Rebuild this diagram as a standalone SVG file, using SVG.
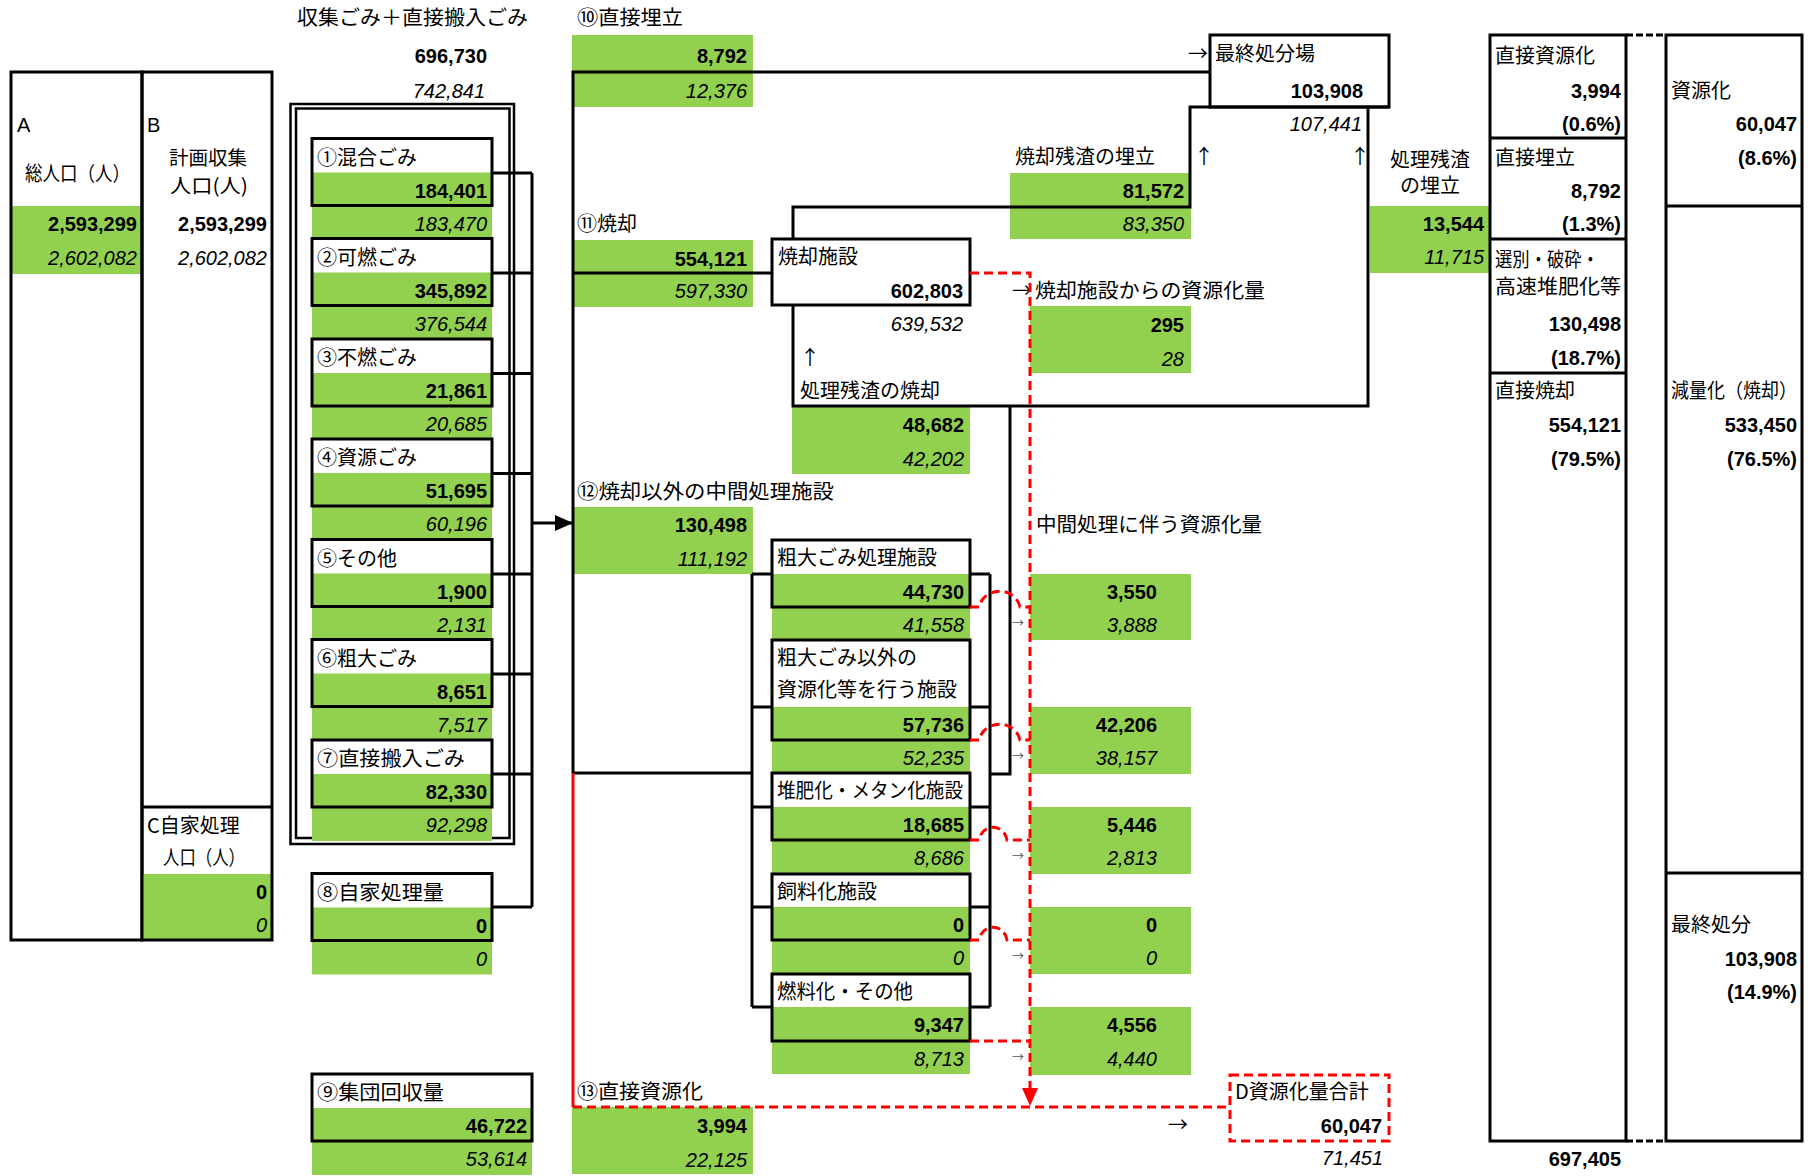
<svg xmlns="http://www.w3.org/2000/svg" width="1819" height="1176" viewBox="0 0 1819 1176">
<style>
.g{fill:#92D050}
.bx{fill:none;stroke:#000;stroke-width:3}
.wb{fill:#fff;stroke:#000;stroke-width:3}
.ln{fill:none;stroke:#000;stroke-width:3}
.dbl{fill:none;stroke:#000;stroke-width:2.5}
.rd{fill:none;stroke:#FF0000;stroke-width:3;stroke-dasharray:9 5}
.rs{fill:none;stroke:#FF0000;stroke-width:3}
.t{font-family:"Noto Sans CJK JP","Noto Sans CJK SC",sans-serif;font-size:20px;fill:#000}
.tm{text-anchor:middle}
.n{font-family:"Liberation Sans",Arial,sans-serif;font-weight:bold;font-size:20px;text-anchor:end;fill:#000}
.i{font-family:"Liberation Sans",Arial,sans-serif;font-style:italic;font-size:20px;text-anchor:end;fill:#000}
.l{font-family:"Liberation Sans",Arial,sans-serif;font-size:20px;fill:#000}
.sa{font-family:"Noto Sans CJK JP",sans-serif;font-size:12px;fill:#555}
</style>
<defs>
<marker id="ah" markerWidth="18" markerHeight="16" refX="18" refY="8" orient="auto" markerUnits="userSpaceOnUse"><path d="M0,0 L18,8 L0,16 Z" fill="#000"/></marker>
</defs>
<rect width="1819" height="1176" fill="#fff"/>

<!-- Population columns -->
<g id="popA">
<rect class="g" x="12" y="206" width="130" height="68"/>
<rect class="bx" x="11" y="72" width="131" height="868"/>
<text class="l" x="17" y="131.5">A</text>
<text class="t" x="25" y="180.5" textLength="105" lengthAdjust="spacingAndGlyphs">総人口（人）</text>
<text class="n" x="137" y="230.5">2,593,299</text>
<text class="i" x="137" y="264.5">2,602,082</text>
</g>
<g id="popB">
<rect class="g" x="142" y="874" width="130" height="66"/>
<rect class="bx" x="142" y="72" width="130" height="868"/>
<line class="ln" x1="142" y1="807" x2="272" y2="807"/>
<text class="l" x="147" y="131.5">B</text>
<text class="t tm" x="208" y="165" style="font-size:19.5px">計画収集</text>
<text class="t tm" x="209" y="193" style="font-size:19.5px" textLength="78" lengthAdjust="spacingAndGlyphs">人口(人)</text>
<text class="n" x="267" y="230.5">2,593,299</text>
<text class="i" x="267" y="264.5">2,602,082</text>
<text class="t" x="147" y="832.5">C自家処理</text>
<text class="t" x="163" y="864.5" textLength="82" lengthAdjust="spacingAndGlyphs">人口（人）</text>
<text class="n" x="267" y="898.5">0</text>
<text class="i" x="267" y="931.5">0</text>
</g>

<!-- Collected total -->
<g id="collected">
<text class="t" x="297" y="24.5" textLength="231" lengthAdjust="spacingAndGlyphs">収集ごみ＋直接搬入ごみ</text>
<text class="n" x="487" y="62.5">696,730</text>
<text class="i" x="485" y="97.5">742,841</text>
<rect class="dbl" x="290.5" y="104" width="223.5" height="740"/>
<rect class="dbl" x="296" y="108.5" width="213.5" height="729.5"/>
</g>

<!-- Left items -->
<g id="n1" transform="translate(312,138.5)">
<rect class="g" x="0" y="34" width="180" height="67"/><rect class="bx" x="0" y="0" width="180" height="67"/>
<text class="t" x="5" y="26">①混合ごみ</text><text class="n" x="175" y="59">184,401</text><text class="i" x="175" y="92">183,470</text>
</g>
<g id="n2" transform="translate(312,238.5)">
<rect class="g" x="0" y="34" width="180" height="67"/><rect class="bx" x="0" y="0" width="180" height="67"/>
<text class="t" x="5" y="26">②可燃ごみ</text><text class="n" x="175" y="59">345,892</text><text class="i" x="175" y="92">376,544</text>
</g>
<g id="n3" transform="translate(312,339)">
<rect class="g" x="0" y="34" width="180" height="67"/><rect class="bx" x="0" y="0" width="180" height="67"/>
<text class="t" x="5" y="26">③不燃ごみ</text><text class="n" x="175" y="59">21,861</text><text class="i" x="175" y="92">20,685</text>
</g>
<g id="n4" transform="translate(312,439)">
<rect class="g" x="0" y="34" width="180" height="67"/><rect class="bx" x="0" y="0" width="180" height="67"/>
<text class="t" x="5" y="26">④資源ごみ</text><text class="n" x="175" y="59">51,695</text><text class="i" x="175" y="92">60,196</text>
</g>
<g id="n5" transform="translate(312,539.5)">
<rect class="g" x="0" y="34" width="180" height="67"/><rect class="bx" x="0" y="0" width="180" height="67"/>
<text class="t" x="5" y="26">⑤その他</text><text class="n" x="175" y="59">1,900</text><text class="i" x="175" y="92">2,131</text>
</g>
<g id="n6" transform="translate(312,639.5)">
<rect class="g" x="0" y="34" width="180" height="67"/><rect class="bx" x="0" y="0" width="180" height="67"/>
<text class="t" x="5" y="26">⑥粗大ごみ</text><text class="n" x="175" y="59">8,651</text><text class="i" x="175" y="92">7,517</text>
</g>
<g id="n7" transform="translate(312,740)">
<rect class="g" x="0" y="34" width="180" height="67"/><rect class="bx" x="0" y="0" width="180" height="67"/>
<text class="t" x="5" y="26" textLength="148" lengthAdjust="spacingAndGlyphs">⑦直接搬入ごみ</text><text class="n" x="175" y="59">82,330</text><text class="i" x="175" y="92">92,298</text>
</g>
<g id="n8" transform="translate(312,873.5)">
<rect class="g" x="0" y="34" width="180" height="67"/><rect class="bx" x="0" y="0" width="180" height="67"/>
<text class="t" x="5" y="26" textLength="127" lengthAdjust="spacingAndGlyphs">⑧自家処理量</text><text class="n" x="175" y="59">0</text><text class="i" x="175" y="92">0</text>
</g>
<g id="n9" transform="translate(312,1074)">
<rect class="g" x="0" y="34" width="220" height="67"/><rect class="bx" x="0" y="0" width="220" height="67"/>
<text class="t" x="5" y="26" textLength="127" lengthAdjust="spacingAndGlyphs">⑨集団回収量</text><text class="n" x="215" y="59">46,722</text><text class="i" x="215" y="92">53,614</text>
</g>

<!-- Treatment columns -->
<g id="n10">
<text class="t" x="577" y="24.5" textLength="106" lengthAdjust="spacingAndGlyphs">⑩直接埋立</text>
<rect class="g" x="572" y="35" width="181" height="72"/>
<text class="n" x="747" y="62.5">8,792</text><text class="i" x="747" y="97.5">12,376</text>
</g>
<g id="n11">
<text class="t" x="577" y="230.5">⑪焼却</text>
<rect class="g" x="572" y="240" width="181" height="67"/>
<text class="n" x="747" y="265.5">554,121</text><text class="i" x="747" y="297.5">597,330</text>
</g>
<g id="n12">
<text class="t" x="577" y="498.5" textLength="257" lengthAdjust="spacingAndGlyphs">⑫焼却以外の中間処理施設</text>
<rect class="g" x="572" y="507" width="181" height="67"/>
<text class="n" x="747" y="531.5">130,498</text><text class="i" x="747" y="565.5">111,192</text>
</g>
<g id="n13">
<text class="t" x="577" y="1098.5" textLength="126" lengthAdjust="spacingAndGlyphs">⑬直接資源化</text>
<rect class="g" x="572" y="1107" width="181" height="67"/>
<text class="n" x="747" y="1132.5">3,994</text><text class="i" x="747" y="1166.5">22,125</text>
</g>

<!-- Incineration -->
<g id="incinerator">
<rect class="wb" x="772" y="239" width="198" height="66"/>
<text class="t" x="778" y="263.5">焼却施設</text>
<text class="n" x="963" y="297.5">602,803</text>
<text class="i" x="963" y="330.5">639,532</text>
</g>
<g id="residue-incin">
<text class="t" x="800" y="364.5">↑</text>
<text class="t" x="800" y="397.5">処理残渣の焼却</text>
<rect class="g" x="792" y="407" width="178" height="67"/>
<text class="n" x="964" y="431.5">48,682</text><text class="i" x="964" y="465.5">42,202</text>
</g>
<g id="ash-landfill">
<text class="t" x="1015" y="163.5">焼却残渣の埋立</text>
<rect class="g" x="1010" y="173" width="181" height="66"/>
<text class="n" x="1184" y="197.5">81,572</text><text class="i" x="1184" y="230.5">83,350</text>
</g>
<g id="final">
<text class="t" x="1188" y="60.5">→</text>
<rect class="bx" x="1210" y="35" width="179" height="72"/>
<text class="t" x="1215" y="60.5">最終処分場</text>
<text class="n" x="1363" y="97.5">103,908</text>
<text class="i" x="1362" y="130.5">107,441</text>
<text class="t" x="1194" y="163.5">↑</text>
<text class="t" x="1350" y="163.5">↑</text>
</g>
<g id="residue-landfill">
<text class="t tm" x="1430" y="166.5">処理残渣</text>
<text class="t tm" x="1430" y="192.5">の埋立</text>
<rect class="g" x="1370" y="206" width="119" height="67"/>
<text class="n" x="1484" y="230.5">13,544</text><text class="i" x="1484" y="263.5">11,715</text>
</g>
<g id="incin-recycle">
<text class="t" x="1012" y="297.5">→</text>
<text class="t" x="1035" y="297.5" textLength="230" lengthAdjust="spacingAndGlyphs">焼却施設からの資源化量</text>
<rect class="g" x="1030" y="306" width="161" height="67"/>
<text class="n" x="1184" y="331.5">295</text><text class="i" x="1184" y="365.5">28</text>
</g>

<!-- Intermediate facilities -->
<g id="f1" transform="translate(772,540)">
<rect class="g" x="0" y="34" width="198" height="67"/><rect class="bx" x="0" y="0" width="198" height="67"/>
<text class="t" x="5" y="25">粗大ごみ処理施設</text><text class="n" x="192" y="58.5">44,730</text><text class="i" x="192" y="91.5">41,558</text>
</g>
<g id="f2" transform="translate(772,640)">
<rect class="g" x="0" y="67" width="198" height="66"/><rect class="bx" x="0" y="0" width="198" height="100"/>
<text class="t" x="5" y="25">粗大ごみ以外の</text><text class="t" x="5" y="57">資源化等を行う施設</text>
<text class="n" x="192" y="91.5">57,736</text><text class="i" x="192" y="124.5">52,235</text>
</g>
<g id="f3" transform="translate(772,773)">
<rect class="g" x="0" y="34" width="198" height="67"/><rect class="bx" x="0" y="0" width="198" height="67"/>
<text class="t" x="5" y="25" textLength="186" lengthAdjust="spacingAndGlyphs">堆肥化・メタン化施設</text><text class="n" x="192" y="58.5">18,685</text><text class="i" x="192" y="91.5">8,686</text>
</g>
<g id="f4" transform="translate(772,874)">
<rect class="g" x="0" y="33" width="198" height="67"/><rect class="bx" x="0" y="0" width="198" height="66"/>
<text class="t" x="5" y="25">飼料化施設</text><text class="n" x="192" y="57.5">0</text><text class="i" x="192" y="90.5">0</text>
</g>
<g id="f5" transform="translate(772,974)">
<rect class="g" x="0" y="33" width="198" height="67"/><rect class="bx" x="0" y="0" width="198" height="67"/>
<text class="t" x="5" y="25" textLength="136" lengthAdjust="spacingAndGlyphs">燃料化・その他</text><text class="n" x="192" y="57.5">9,347</text><text class="i" x="192" y="91.5">8,713</text>
</g>

<!-- Recycling amounts from intermediate -->
<g id="mid-recycle">
<text class="t" x="1036" y="531.5" textLength="226" lengthAdjust="spacingAndGlyphs">中間処理に伴う資源化量</text>
<rect class="g" x="1030" y="574" width="161" height="66"/>
<text class="n" x="1157" y="598.5">3,550</text><text class="i" x="1157" y="631.5">3,888</text>
<rect class="g" x="1030" y="707" width="161" height="67"/>
<text class="n" x="1157" y="731.5">42,206</text><text class="i" x="1157" y="764.5">38,157</text>
<rect class="g" x="1030" y="807" width="161" height="67"/>
<text class="n" x="1157" y="831.5">5,446</text><text class="i" x="1157" y="864.5">2,813</text>
<rect class="g" x="1030" y="907" width="161" height="67"/>
<text class="n" x="1157" y="931.5">0</text><text class="i" x="1157" y="964.5">0</text>
<rect class="g" x="1030" y="1007" width="161" height="68"/>
<text class="n" x="1157" y="1031.5">4,556</text><text class="i" x="1157" y="1065.5">4,440</text>
<text class="sa" x="1012" y="628">→</text>
<text class="sa" x="1012" y="761">→</text>
<text class="sa" x="1012" y="861">→</text>
<text class="sa" x="1012" y="961">→</text>
<text class="sa" x="1012" y="1062">→</text>
</g>

<!-- Total recycling -->
<g id="total-recycle">
<text class="t" x="1168" y="1131.5">→</text>
<rect class="rd" x="1230" y="1075" width="159" height="66"/>
<text class="t" x="1235" y="1098.5">D資源化量合計</text>
<text class="n" x="1382" y="1132.5">60,047</text>
<text class="i" x="1383" y="1164.5">71,451</text>
</g>

<!-- Summary table -->
<g id="summary">
<rect class="bx" x="1490" y="35" width="136" height="1106"/>
<rect class="bx" x="1666" y="35" width="136" height="1106"/>
<line class="ln" x1="1490" y1="138" x2="1626" y2="138"/>
<line class="ln" x1="1490" y1="239" x2="1626" y2="239"/>
<line class="ln" x1="1490" y1="373" x2="1626" y2="373"/>
<line class="ln" x1="1666" y1="206" x2="1802" y2="206"/>
<line class="ln" x1="1666" y1="873" x2="1802" y2="873"/>
<line x1="1626" y1="35" x2="1666" y2="35" stroke="#000" stroke-width="3" stroke-dasharray="7 3"/>
<line x1="1626" y1="1141" x2="1666" y2="1141" stroke="#000" stroke-width="3" stroke-dasharray="7 3"/>
<text class="t" x="1495" y="62.5">直接資源化</text>
<text class="n" x="1621" y="97.5">3,994</text>
<text class="n" x="1621" y="130.5">(0.6%)</text>
<text class="t" x="1495" y="164.5">直接埋立</text>
<text class="n" x="1621" y="197.5">8,792</text>
<text class="n" x="1621" y="230.5">(1.3%)</text>
<text class="t" x="1495" y="266.5" textLength="104" lengthAdjust="spacingAndGlyphs">選別・破砕・</text>
<text class="t" x="1495" y="293.5" textLength="126" lengthAdjust="spacingAndGlyphs">高速堆肥化等</text>
<text class="n" x="1621" y="330.5">130,498</text>
<text class="n" x="1621" y="364.5">(18.7%)</text>
<text class="t" x="1495" y="397.5">直接焼却</text>
<text class="n" x="1621" y="431.5">554,121</text>
<text class="n" x="1621" y="465.5">(79.5%)</text>
<text class="n" x="1621" y="1165.5">697,405</text>
<text class="t" x="1671" y="97.5">資源化</text>
<text class="n" x="1797" y="130.5">60,047</text>
<text class="n" x="1797" y="164.5">(8.6%)</text>
<text class="t" x="1671" y="397.5" textLength="126" lengthAdjust="spacingAndGlyphs">減量化（焼却）</text>
<text class="n" x="1797" y="431.5">533,450</text>
<text class="n" x="1797" y="465.5">(76.5%)</text>
<text class="t" x="1671" y="931.5">最終処分</text>
<text class="n" x="1797" y="965.5">103,908</text>
<text class="n" x="1797" y="998.5">(14.9%)</text>
</g>

<!-- Connectors -->
<g id="connectors">
<path class="ln" d="M492,173 H532 M492,273 H532 M492,373.5 H532 M492,473.5 H532 M492,574 H532 M492,674 H532 M492,774 H532 M492,907 H532 M532,173 V907"/>
<line class="ln" x1="532" y1="523" x2="573" y2="523" marker-end="url(#ah)"/>
<path class="ln" d="M573,773 V72 H1210"/>
<path class="ln" d="M573,273 H772"/>
<path class="ln" d="M573,773 H752"/>
<path class="ln" d="M752,574 V1007 M752,574 H772 M752,707 H772 M752,807 H772 M752,907 H772 M752,1007 H772"/>
<path class="ln" d="M990,574 V1007 M970,574 H990 M970,707 H990 M970,807 H990 M970,907 H990 M970,1007 H990"/>
<path class="ln" d="M990,774 H1010 V406"/>
<path class="ln" d="M793,239 V207 H1190 V107 H1389"/>
<path class="ln" d="M793,305 V406 H1368 V107"/>
<path class="rs" d="M573,773 V1107"/>
<path class="rd" d="M573,1107 H1230"/>
<path class="rd" d="M970,273 H1030 V1090"/>
<polygon points="1022,1088 1038,1088 1030,1106" fill="#FF0000"/>
<path class="rd" d="M970,607 H979 C984,586 1015,586 1020,607 H1030"/>
<path class="rd" d="M970,740 H979 C984,719 1015,719 1020,740 H1030"/>
<path class="rd" d="M970,840 H979 C982,823 1004,823 1007,840 H1030"/>
<path class="rd" d="M970,940 H979 C982,923 1004,923 1007,940 H1030"/>
<path class="rd" d="M970,1041 H1030"/>
</g>
</svg>
